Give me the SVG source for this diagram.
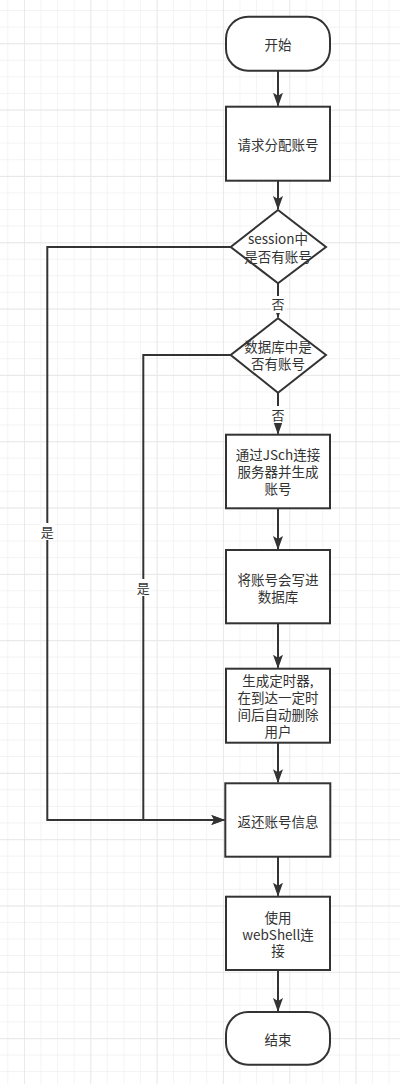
<svg xmlns="http://www.w3.org/2000/svg" width="400" height="1084" viewBox="0 0 400 1084">
<defs>
<pattern id="minor" x="7.3" y="10" width="16.58" height="16.58" patternUnits="userSpaceOnUse">
<path d="M0,0 H16.58 M0,0 V16.58" fill="none" stroke="#efefef" stroke-width="1.3"/>
</pattern>
<pattern id="major" x="24" y="43.3" width="66.33" height="66.33" patternUnits="userSpaceOnUse">
<path d="M0,0 H66.33 M0,0 V66.33" fill="none" stroke="#e4e4e4" stroke-width="1.3"/>
</pattern>
<marker id="arr" viewBox="0 0 14 10" refX="13" refY="5" markerWidth="14" markerHeight="10" markerUnits="userSpaceOnUse" orient="auto">
<path d="M0,0 L14,5 L0,10 L3,5 Z" fill="#333"/>
</marker>
<style>
.n{fill:#fff;stroke:#333;stroke-width:2}
.t{font-family:"Noto Sans CJK SC","Liberation Sans",sans-serif;font-size:13.5px;fill:#333;text-anchor:middle}
.l{font-family:"Noto Sans CJK SC","Liberation Sans",sans-serif;font-size:13px;fill:#333;text-anchor:middle}
.c{fill:none;stroke:#333;stroke-width:2}
.lb{fill:#fff}
</style>
</defs>
<rect width="400" height="1084" fill="#fff"/>
<rect width="400" height="1084" fill="url(#minor)"/>
<rect width="400" height="1084" fill="url(#major)"/>

<g id="connectors">
<path class="c" d="M278,70.7 V105.7" marker-end="url(#arr)"/>
<path class="c" d="M278,180.7 V209" marker-end="url(#arr)"/>
<path class="c" d="M278,283.3 V317.3" marker-end="url(#arr)"/>
<path class="c" d="M278,392.7 V433.7" marker-end="url(#arr)"/>
<path class="c" d="M278,508.3 V549" marker-end="url(#arr)"/>
<path class="c" d="M278,623.3 V667.7" marker-end="url(#arr)"/>
<path class="c" d="M278,742.7 V782.3" marker-end="url(#arr)"/>
<path class="c" d="M230.7,247 H47.3 V820 H224.3" marker-end="url(#arr)"/>
<path class="c" d="M230.7,355 H143.3 V820 H224.3" marker-end="url(#arr)"/>
<path class="c" d="M278,856.7 V895.7" marker-end="url(#arr)"/>
<path class="c" d="M278,970 V1011" marker-end="url(#arr)"/>
<rect class="lb" x="271" y="296" width="14" height="17"/>
<text class="l" x="278" y="309">否</text>
<rect class="lb" x="271" y="406" width="14" height="17"/>
<text class="l" x="278" y="419.5">否</text>
<rect class="lb" x="40" y="523" width="15" height="17"/>
<text class="l" x="47.3" y="536.5">是</text>
<rect class="lb" x="136" y="579" width="15" height="17"/>
<text class="l" x="143.3" y="592.5">是</text>
</g>

<g id="start">
<rect class="n" x="226" y="16.7" width="104" height="54" rx="22" ry="22"/>
<text class="t" x="278" y="50">开始</text>
</g>
<g id="request">
<rect class="n" x="226" y="106.7" width="104" height="74"/>
<text class="t" x="278" y="149.5">请求分配账号</text>
</g>
<g id="session">
<path class="n" d="M278,210 L326,247 L278,283.3 L230.7,247 Z"/>
<text class="t" x="278" y="244">session中<tspan x="278" dy="17.5">是否有账号</tspan></text>
</g>
<g id="db">
<path class="n" d="M278,318.3 L326,355 L278,392.7 L230.7,355 Z"/>
<text class="t" x="278" y="351.5">数据库中是<tspan x="278" dy="17.5">否有账号</tspan></text>
</g>
<g id="jsch">
<rect class="n" x="226" y="434.7" width="104" height="73.6"/>
<text class="t" x="278" y="460">通过JSch连接<tspan x="278" dy="17.2">服务器并生成</tspan><tspan x="278" dy="17.2">账号</tspan></text>
</g>
<g id="write">
<rect class="n" x="226" y="550" width="104" height="73.3"/>
<text class="t" x="278" y="585">将账号会写进<tspan x="278" dy="16.7">数据库</tspan></text>
</g>
<g id="timer">
<rect class="n" x="226" y="668.7" width="104" height="74"/>
<text class="t" x="278" y="685.7">生成定时器,<tspan x="278" dy="17">在到达一定时</tspan><tspan x="278" dy="17">间后自动删除</tspan><tspan x="278" dy="17">用户</tspan></text>
</g>
<g id="return">
<rect class="n" x="225.3" y="783.3" width="105" height="73.4"/>
<text class="t" x="278" y="826.5">返还账号信息</text>
</g>
<g id="webshell">
<rect class="n" x="226" y="896.7" width="104" height="73.3"/>
<text class="t" x="278" y="923.3">使用<tspan x="278" dy="16.5">webShell连</tspan><tspan x="278" dy="16.5">接</tspan></text>
</g>
<g id="end">
<rect class="n" x="226" y="1012" width="104" height="52.7" rx="22" ry="22"/>
<text class="t" x="278" y="1045">结束</text>
</g>
</svg>
